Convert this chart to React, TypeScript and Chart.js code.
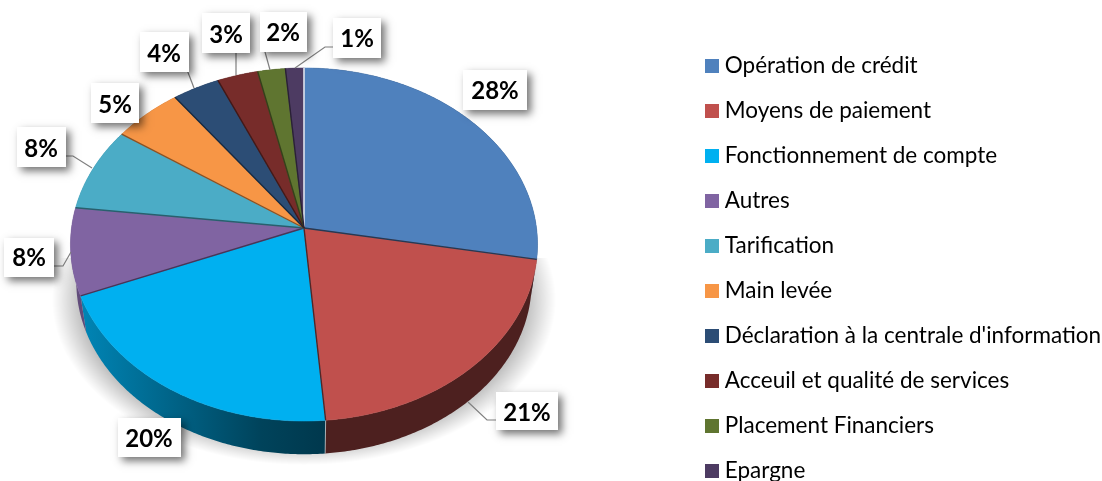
import React, { useEffect, useRef } from "react";
import { Chart, registerables } from "chart.js";

Chart.register(...registerables);

const categories = [
  "Opération de crédit",
  "Moyens de paiement",
  "Fonctionnement de compte",
  "Autres",
  "Tarification",
  "Main levée",
  "Déclaration à la centrale d'information",
  "Acceuil et qualité de services",
  "Placement Financiers",
  "Epargne",
];
const shares = [27.9, 20.9, 20.3, 8.0, 7.7, 5.3, 3.6, 3.1, 2.1, 1.4];
const colors = ["#4F81BD", "#C0504D", "#00B0F0", "#8064A2", "#4BACC6", "#F79646", "#2C4D75", "#772C2A", "#5F7530", "#4D3B62"];

// Label boxes: [left, top, right, bottom, textX, textY]
const labelBoxes = [
  [463, 70, 527, 110, 495, 91],
  [496, 392, 558, 430, 527, 413],
  [118, 418, 181, 457, 149, 439],
  [4, 238, 54, 277, 29, 258],
  [17, 127, 66, 167, 41, 149],
  [91, 83, 139, 123, 115, 105],
  [140, 32, 189, 72, 164, 54],
  [202, 13, 250, 53, 226, 35],
  [260, 12, 307, 52, 283, 33],
  [333, 18, 381, 58, 357, 39],
];
const leaders: number[][][] = [
  [],
  [[468, 402], [487, 420], [498, 420]],
  [],
  [[50, 266], [63, 266], [71, 252]],
  [[62, 156], [73, 156], [92, 168]],
  [],
  [[184, 62], [194, 88]],
  [[236, 51], [236, 75]],
  [[262, 41], [270, 70]],
  [[295, 68], [325, 47], [337, 47]],
];

// Projection of the tilted disc
const CX = 304;
const CY = 228;
const RX = 232.5;
const RY = 175;
const PERSPECTIVE = 0.0934;
const BOTTOM_DY = 38;
const BOTTOM_GROW = 0.975;

const project = (theta: number, dy = 0, grow = 1) => {
  const u = Math.sin(theta);
  const v = -Math.cos(theta);
  const d = 1 - PERSPECTIVE * v;
  return [CX + (grow * RX * u) / d, CY + dy + (grow * RY * v) / d];
};

const shade = (hex: string, f: number) => {
  const n = parseInt(hex.slice(1), 16);
  const c = [(n >> 16) & 255, (n >> 8) & 255, n & 255].map((x) => Math.round(x * f));
  return `rgb(${c[0]},${c[1]},${c[2]})`;
};

const arcPoints = (a: number, b: number, dy = 0, grow = 1) => {
  const steps = Math.max(2, Math.ceil((b - a) / 0.01));
  const pts: number[][] = [];
  for (let i = 0; i <= steps; i++) pts.push(project(a + ((b - a) * i) / steps, dy, grow));
  return pts;
};

const trace = (ctx: CanvasRenderingContext2D, pts: number[][]) => {
  pts.forEach((p, i) => (i ? ctx.lineTo(p[0], p[1]) : ctx.moveTo(p[0], p[1])));
};

const tiltedPie = {
  id: "tiltedPie",
  afterLayout(chart: any) {
    const legend = chart.legend;
    legend.left = 688;
    legend.top = 32.25;
    legend.bottom = 560;
    legend.right = 1102;
  },
  beforeDatasetsDraw(chart: any) {
    const ctx: CanvasRenderingContext2D = chart.ctx;
    const arcs = chart.getDatasetMeta(0).data;
    const angles = arcs.map((arc: any) => [arc.startAngle + Math.PI / 2, arc.endAngle + Math.PI / 2]);

    // soft shadow under the disc
    ctx.save();
    ctx.beginPath();
    ctx.rect(0, 258, 600, 223);
    ctx.clip();
    ctx.translate(304, 300);
    ctx.scale(1, 165 / 252);
    const glow = ctx.createRadialGradient(0, 0, 0, 0, 0, 252);
    glow.addColorStop(0, "rgba(0,0,0,0.3)");
    glow.addColorStop(0.86, "rgba(0,0,0,0.3)");
    glow.addColorStop(0.97, "rgba(0,0,0,0.06)");
    glow.addColorStop(1, "rgba(0,0,0,0)");
    ctx.fillStyle = glow;
    ctx.fillRect(-252, -252, 504, 504);
    ctx.restore();

    // walls
    angles.forEach(([a, b]: number[], i: number) => {
      const g = ctx.createLinearGradient(70, 0, 325, 0);
      if (i === 1 || i === 0) {
        g.addColorStop(0, shade(colors[i], 0.4));
        g.addColorStop(1, shade(colors[i], 0.4));
      } else {
        g.addColorStop(0, shade(colors[i], 0.78));
        g.addColorStop(0.75, shade(colors[i], 0.38));
        g.addColorStop(1, shade(colors[i], 0.32));
      }
      ctx.fillStyle = g;
      ctx.beginPath();
      trace(ctx, arcPoints(a, b));
      arcPoints(a, b, BOTTOM_DY, BOTTOM_GROW).reverse().forEach((p) => ctx.lineTo(p[0], p[1]));
      ctx.closePath();
      ctx.fill();
    });
    // seam between red and blue walls
    const seam = project(angles[1][1]);
    const seamLow = project(angles[1][1], BOTTOM_DY, BOTTOM_GROW);
    ctx.strokeStyle = "rgba(255,255,255,0.55)";
    ctx.lineWidth = 1;
    ctx.beginPath();
    ctx.moveTo(seam[0], seam[1]);
    ctx.lineTo(seamLow[0], seamLow[1]);
    ctx.stroke();

    // top faces
    angles.forEach(([a, b]: number[], i: number) => {
      ctx.fillStyle = colors[i];
      ctx.strokeStyle = colors[i];
      ctx.lineWidth = 0.5;
      ctx.beginPath();
      ctx.moveTo(CX, CY);
      arcPoints(a, b).forEach((p) => ctx.lineTo(p[0], p[1]));
      ctx.closePath();
      ctx.fill();
      ctx.stroke();
    });

    // radial edges
    angles.forEach(([a]: number[], i: number) => {
      const prev = (i + colors.length - 1) % colors.length;
      const p = project(a);
      const isTop = i === 0;
      ctx.strokeStyle = isTop ? "#dfe6f0" : a < Math.PI ? shade(colors[prev], 0.45) : shade(colors[i], 0.55);
      ctx.lineWidth = isTop ? 1.6 : 1.4;
      ctx.beginPath();
      ctx.moveTo(CX, CY);
      ctx.lineTo(p[0], p[1]);
      ctx.stroke();
    });
    return false;
  },
  afterDraw(chart: any) {
    const ctx: CanvasRenderingContext2D = chart.ctx;
    const total = shares.reduce((s, v) => s + v, 0);
    ctx.save();
    ctx.strokeStyle = "#7f7f7f";
    ctx.lineWidth = 1.2;
    leaders.forEach((line) => {
      if (!line.length) return;
      ctx.beginPath();
      trace(ctx, line);
      ctx.stroke();
    });
    labelBoxes.forEach(([l, t, r, b, tx, ty], i) => {
      ctx.save();
      ctx.shadowColor = "rgba(0,0,0,0.55)";
      ctx.shadowBlur = 8;
      ctx.shadowOffsetX = 4;
      ctx.shadowOffsetY = 4;
      ctx.fillStyle = "#ffffff";
      ctx.fillRect(l, t, r - l, b - t);
      ctx.restore();
      ctx.fillStyle = "#000000";
      ctx.font = "bold 24px Lato";
      ctx.textAlign = "center";
      ctx.textBaseline = "middle";
      ctx.fillText(`${Math.round((shares[i] / total) * 100)}%`, tx, ty);
    });
    ctx.restore();
  },
};

const swatch = (color: string) => {
  const c = document.createElement("canvas");
  c.width = 14;
  c.height = 14;
  const x = c.getContext("2d")!;
  x.fillStyle = color;
  x.fillRect(0, 0, 14, 14);
  return c;
};

export default function App() {
  const ref = useRef<HTMLCanvasElement>(null);
  useEffect(() => {
    const chart = new Chart(ref.current!, {
      type: "pie",
      data: {
        labels: categories,
        datasets: [{ data: shares, backgroundColor: colors, borderWidth: 0 }],
      },
      options: {
        responsive: false,
        animation: false,
        plugins: {
          tooltip: { enabled: false },
          legend: {
            position: "right",
            align: "start",
            labels: {
              usePointStyle: true,
              pointStyleWidth: 3,
              boxHeight: 14,
              padding: 22.5,
              color: "#404040",
              font: { family: "Lato", size: 22.5 },
              generateLabels: () =>
                categories.map((text, i) => ({
                  text,
                  index: i,
                  hidden: false,
                  fillStyle: colors[i],
                  strokeStyle: colors[i],
                  lineWidth: 0,
                  pointStyle: swatch(colors[i]),
                })),
            },
          },
        },
      },
      plugins: [tiltedPie],
    } as any);
    return () => chart.destroy();
  }, []);
  return (
    <div style={{ position: "fixed", left: 0, top: 0, width: 1102, height: 481, background: "#fff" }}>
      <canvas ref={ref} width={1102} height={481} style={{ display: "block" }} />
    </div>
  );
}
